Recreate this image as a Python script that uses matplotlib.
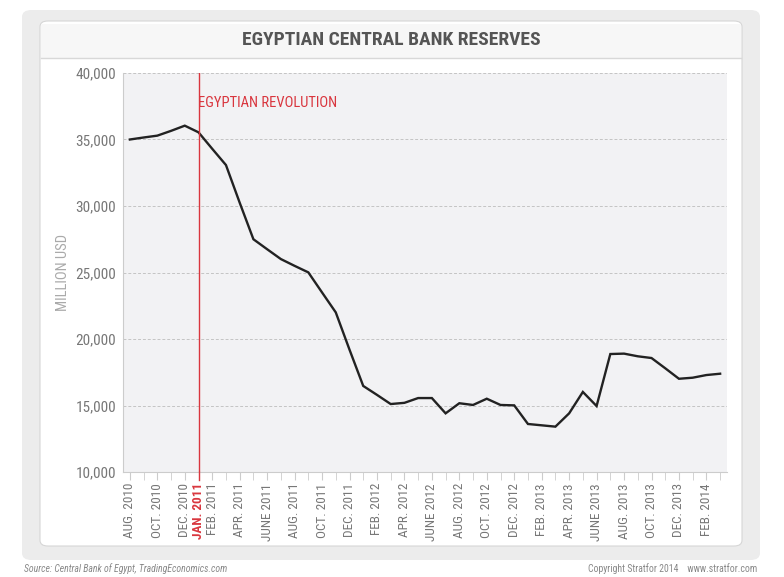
import matplotlib
matplotlib.use("Agg")
import matplotlib.pyplot as plt
from matplotlib.patches import FancyBboxPatch, Rectangle
from matplotlib import font_manager as fm

names = {f.name for f in fm.fontManager.ttflist}
cond = None
for c in ["Roboto Condensed", "Liberation Sans Narrow", "DejaVu Sans Condensed"]:
    if c in names:
        cond = c
        break
if cond is None:
    cond = "DejaVu Sans"

# ---- data (monthly, Aug 2010 .. Mar 2014), million USD ----
months = ["AUG. 2010", "SEP. 2010", "OCT. 2010", "NOV. 2010", "DEC. 2010", "JAN. 2011",
          "FEB. 2011", "MAR. 2011", "APR. 2011", "MAY 2011", "JUNE 2011", "JULY 2011",
          "AUG. 2011", "SEP. 2011", "OCT. 2011", "NOV. 2011", "DEC. 2011", "JAN. 2012",
          "FEB. 2012", "MAR. 2012", "APR. 2012", "MAY 2012", "JUNE 2012", "JULY 2012",
          "AUG. 2012", "SEP. 2012", "OCT. 2012", "NOV. 2012", "DEC. 2012", "JAN. 2013",
          "FEB. 2013", "MAR. 2013", "APR. 2013", "MAY 2013", "JUNE 2013", "JULY 2013",
          "AUG. 2013", "SEP. 2013", "OCT. 2013", "NOV. 2013", "DEC. 2013", "JAN. 2014",
          "FEB. 2014", "MAR. 2014"]
reserves = [35000, 35150, 35290, 35650, 36040, 35540,
            34300, 33080, 30250, 27500, 26750, 26010,
            25500, 25010, 23500, 22000, 19200, 16470,
            15800, 15110, 15200, 15560, 15560, 14410,
            15170, 15040, 15510, 15040, 15010, 13610,
            13510, 13410, 14410, 16020, 14960, 18870,
            18900, 18700, 18570, 17800, 17010, 17090,
            17290, 17390]
label_months = ["AUG. 2010", "OCT. 2010", "DEC. 2010", "JAN. 2011", "FEB. 2011", "APR. 2011",
                "JUNE 2011", "AUG. 2011", "OCT. 2011", "DEC. 2011", "FEB. 2012", "APR. 2012",
                "JUNE 2012", "AUG. 2012", "OCT. 2012", "DEC. 2012", "FEB. 2013", "APR. 2013",
                "JUNE 2013", "AUG. 2013", "OCT. 2013", "DEC. 2013", "FEB. 2014"]
event_month = "JAN. 2011"
event_label = "EGYPTIAN REVOLUTION"
yticks = [10000, 15000, 20000, 25000, 30000, 35000, 40000]

W, H = 784, 577
fig = plt.figure(figsize=(W / 100, H / 100), dpi=100)
fig.patch.set_facecolor("white")

def fx(px):
    return px / W

def fy(py):
    return 1 - py / H

# outer gray panel
outer = FancyBboxPatch((fx(22), fy(560)), fx(760) - fx(22), fy(10) - fy(560),
                       boxstyle="round,pad=0,rounding_size=0.012",
                       transform=fig.transFigure, facecolor="#ececec", edgecolor="none", zorder=0)
fig.patches.append(outer)
inner = FancyBboxPatch((fx(40), fy(546)), fx(742) - fx(40), fy(21) - fy(546),
                       boxstyle="round,pad=0,rounding_size=0.01",
                       transform=fig.transFigure, facecolor="white", edgecolor="#d6d6d6",
                       linewidth=0.8, zorder=0.5)
fig.patches.append(inner)
titlebar = Rectangle((fx(41), fy(58)), fx(741) - fx(41), fy(24) - fy(58),
                     transform=fig.transFigure, facecolor="#f7f7f7", edgecolor="none", zorder=0.6)
fig.patches.append(titlebar)
fig.add_artist(plt.Line2D([fx(41), fx(741)], [fy(58), fy(58)], transform=fig.transFigure,
                          color="#d8d8d8", linewidth=1, zorder=0.7))

fig.text(fx(391), fy(40), "EGYPTIAN CENTRAL BANK RESERVES", ha="center", va="center",
         fontsize=14, fontweight="bold", color="#555555", family=cond)

ax = fig.add_axes([fx(123), fy(472), fx(727) - fx(123), fy(73) - fy(472)])
ax.set_zorder(2)
ax.set_facecolor("#f2f2f4")
x = list(range(len(months)))
ax.plot(x, reserves, color="#222222", linewidth=1.7, zorder=3, solid_joinstyle="miter")

ev = months.index(event_month)
ax.axvline(ev, color="#d9363e", linewidth=1.0, zorder=4)
ax.plot([ev, ev], [0, -0.02], transform=ax.get_xaxis_transform(), color="#d9363e",
        linewidth=1.0, clip_on=False, zorder=4)
ax.text(ev - 0.05, 37750, event_label, color="#d9363e", fontsize=10.5, family=cond,
        ha="left", va="center", zorder=5)

ax.set_xlim(-0.5, len(months) - 0.5)
ax.set_ylim(10000, 40000)
ax.set_yticks(yticks)
ax.set_yticklabels([f"{v:,}" for v in yticks], fontsize=11, color="#777777", family=cond)
ax.yaxis.grid(True, linestyle=(0, (3, 2)), color="#c4c4c4", linewidth=0.7)
ax.tick_params(axis="y", length=0, pad=5)

pos = [months.index(m) for m in label_months]
ax.set_xticks(pos)
ax.set_xticklabels(label_months, rotation=90, fontsize=9.5, color="#777777", family=cond)
for t in ax.get_xticklabels():
    if t.get_text() == event_month:
        t.set_color("#d9363e")
        t.set_fontweight("bold")
ax.set_xticks(x, minor=True)
ax.tick_params(axis="x", which="both", length=6, color="#cccccc", direction="out", pad=2)

for s in ["top", "right"]:
    ax.spines[s].set_visible(False)
ax.spines["left"].set_color("#cccccc")
ax.spines["bottom"].set_color("#cccccc")
ax.set_axisbelow(True)

fig.text(fx(63), (fy(73) + fy(472)) / 2, "MILLION USD", rotation=90, ha="center", va="center",
         fontsize=10.5, color="#aaaaaa", family=cond)

fig.text(fx(24), fy(569), "Source: Central Bank of Egypt, TradingEconomics.com", ha="left",
         va="center", fontsize=7, style="italic", color="#888888", family=cond)
fig.text(fx(757), fy(569), "Copyright Stratfor 2014    www.stratfor.com", ha="right",
         va="center", fontsize=7, color="#888888", family=cond)

fig.savefig("out.png", dpi=100, facecolor="white")
